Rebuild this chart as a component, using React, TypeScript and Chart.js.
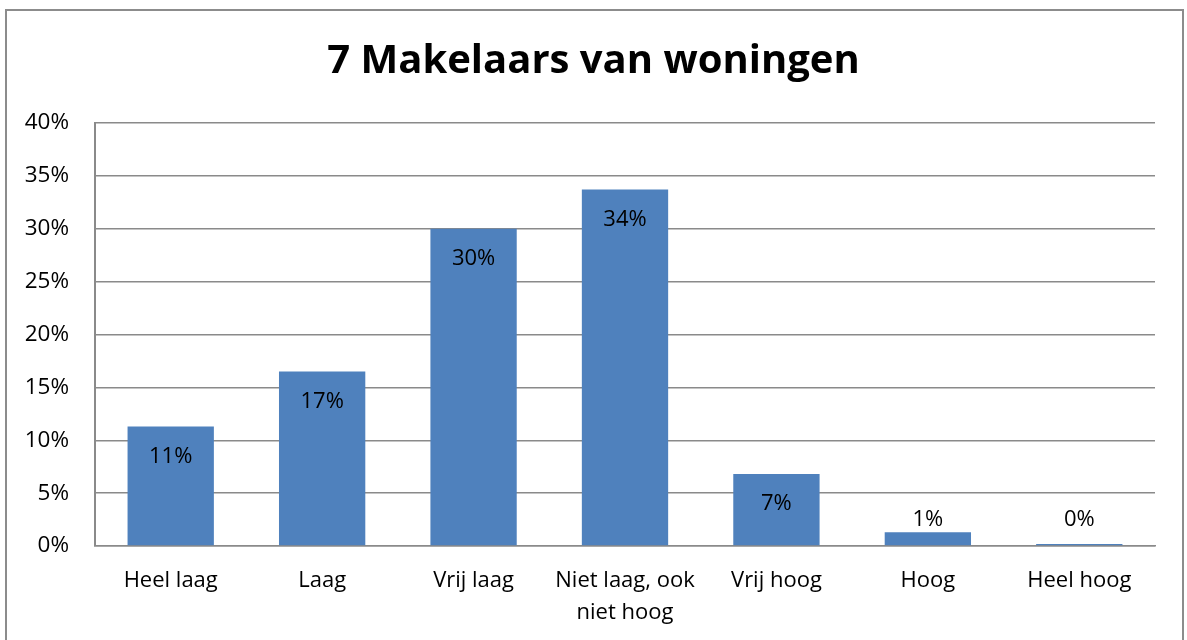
import React, { useEffect, useRef } from "react";
import { Chart, registerables } from "chart.js";

Chart.register(...registerables);

const TITLE = "7 Makelaars van woningen";
const categories: (string | string[])[] = [
  "Heel laag",
  "Laag",
  "Vrij laag",
  ["Niet laag, ook", "niet hoog"],
  "Vrij hoog",
  "Hoog",
  "Heel hoog",
];
const values = [11.3, 16.5, 30.0, 33.7, 6.8, 1.3, 0.2];
const valueLabels = ["11%", "17%", "30%", "34%", "7%", "1%", "0%"];

const FONT = "'Open Sans', 'Noto Sans', sans-serif";
const BAR_COLOR = "#4F81BD";
const GRID_COLOR = "#8a8a8a";

const framePlugin = {
  id: "frame",
  beforeDraw(chart: any) {
    const ctx = chart.ctx;
    ctx.save();
    ctx.fillStyle = "#ffffff";
    ctx.fillRect(0, 0, chart.width, chart.height);
    ctx.strokeStyle = "#8c8c8c";
    ctx.lineWidth = 2;
    ctx.strokeRect(6, 10, 1177, 640);
    ctx.restore();
  },
};

const labelPlugin = {
  id: "barLabels",
  afterDatasetsDraw(chart: any) {
    const ctx = chart.ctx;
    const meta = chart.getDatasetMeta(0);
    const yScale = chart.scales.y;
    const base = yScale.getPixelForValue(0);
    ctx.save();
    ctx.font = `22px ${FONT}`;
    ctx.fillStyle = "#000000";
    ctx.textAlign = "center";
    ctx.textBaseline = "middle";
    meta.data.forEach((bar: any, i: number) => {
      const h = base - bar.y;
      let y: number;
      if (h > 40) y = bar.y + 30;
      else y = Math.min(bar.y - 12, base - 26);
      ctx.fillText(valueLabels[i], bar.x, y);
    });
    ctx.restore();
  },
};

export default function App() {
  const ref = useRef<HTMLCanvasElement | null>(null);
  useEffect(() => {
    if (!ref.current) return;
    const chart = new Chart(ref.current, {
      type: "bar",
      data: {
        labels: categories,
        datasets: [
          {
            data: values,
            backgroundColor: BAR_COLOR,
            barPercentage: 0.57,
            categoryPercentage: 1,
            yAxisID: "y",
          },
        ],
      },
      options: {
        animation: false,
        responsive: false,
        layout: { padding: { top: 0, left: 0, right: 0, bottom: 0 } },
        plugins: {
          legend: { display: false },
          tooltip: { enabled: false },
          title: {
            display: true,
            text: TITLE,
            color: "#000000",
            font: { family: FONT, size: 40, weight: "bold", lineHeight: 1.2 },
            padding: { top: 38, bottom: 37 },
          },
        },
        scales: {
          x: {
            grid: { display: false, drawTicks: false },
            border: { display: true, color: GRID_COLOR, width: 1.5 },
            ticks: {
              color: "#000000",
              font: { family: FONT, size: 22, lineHeight: 1.45 },
              padding: 19,
              maxRotation: 0,
              autoSkip: false,
            },
            afterFit(scale: any) {
              scale.height = 94;
            },
          },
          y: {
            min: 0,
            max: 40,
            ticks: {
              stepSize: 5,
              color: "#000000",
              font: { family: FONT, size: 22.5 },
              padding: 26,
              callback: (v: any) => `${v}%`,
            },
            grid: { color: GRID_COLOR, lineWidth: 1.5, drawTicks: false },
            border: { display: true, color: GRID_COLOR, width: 2 },
            afterFit(scale: any) {
              scale.width = 95;
            },
          },
          yRight: {
            position: "right",
            display: true,
            min: 0,
            max: 40,
            grid: { display: false, drawTicks: false },
            border: { display: false },
            ticks: { display: false },
            afterFit(scale: any) {
              scale.width = 32;
            },
          },
        },
      },
      plugins: [framePlugin, labelPlugin],
    });
    return () => chart.destroy();
  }, []);
  return (
    <div style={{ position: "fixed", left: 0, top: 0, width: 1187, height: 640 }}>
      <canvas ref={ref} width={1187} height={640} style={{ width: 1187, height: 640, display: "block" }} />
    </div>
  );
}
